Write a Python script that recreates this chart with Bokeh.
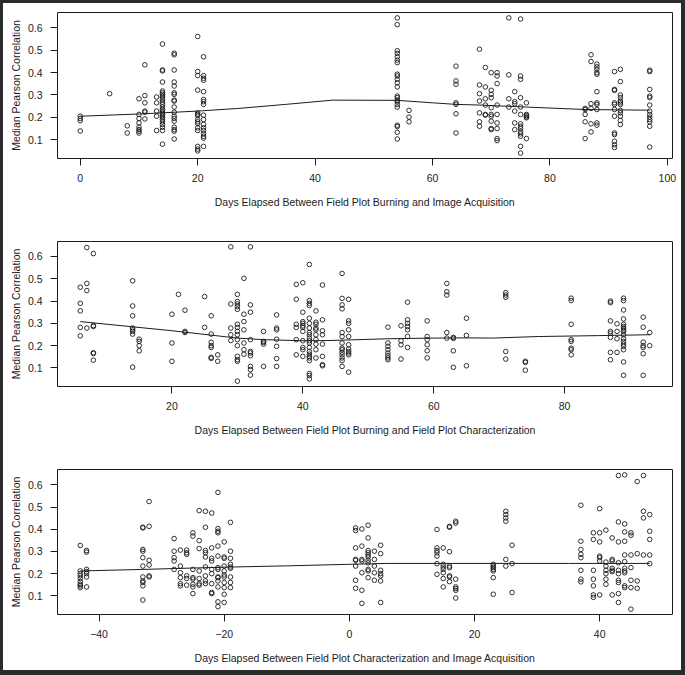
from bokeh.plotting import figure
from bokeh.layouts import column
from bokeh.models import Range1d, FixedTicker
from bokeh.embed import file_html
from bokeh.resources import INLINE

# ---------------- data ----------------
# Panel 1: days between burning and image acquisition
p1_columns = [
    (0, [0.205, 0.195, 0.185, 0.139]),
    (5, [0.306]),
    (8, [0.162, 0.130]),
    (10, [0.283, 0.213, 0.195, 0.175, 0.156, 0.145, 0.138, 0.130]),
    (11, [0.435, 0.297, 0.265, 0.228, 0.223, 0.193]),
    (13, [0.291, 0.265, 0.228, 0.205, 0.141]),
    (14, [0.528, 0.412, 0.408, 0.358, 0.318, 0.310, 0.303, 0.295, 0.288, 0.279, 0.268, 0.258,
          0.246, 0.235, 0.228, 0.220, 0.213, 0.205, 0.198, 0.190, 0.180, 0.168, 0.156, 0.141, 0.080]),
    (16, [0.487, 0.480, 0.412, 0.358, 0.340, 0.310, 0.303, 0.277, 0.273, 0.246, 0.223, 0.205,
          0.195, 0.183, 0.156, 0.145, 0.138, 0.103]),
    (20, [0.562, 0.405, 0.387, 0.322, 0.220, 0.213, 0.208, 0.190, 0.180, 0.172, 0.153, 0.141,
          0.070, 0.058, 0.050]),
    (21, [0.471, 0.387, 0.375, 0.366, 0.315, 0.280, 0.270, 0.258, 0.210, 0.190, 0.168, 0.153,
          0.141, 0.127, 0.115, 0.107, 0.070]),
    (54, [0.645, 0.615, 0.498, 0.486, 0.471, 0.456, 0.445, 0.393, 0.385, 0.370, 0.355, 0.336,
          0.295, 0.288, 0.277, 0.270, 0.258, 0.246, 0.165, 0.159, 0.133, 0.103]),
    (56, [0.231, 0.201, 0.180]),
    (64, [0.429, 0.363, 0.348, 0.265, 0.258, 0.216, 0.130]),
    (68, [0.505, 0.345, 0.306, 0.273, 0.220, 0.180, 0.160]),
    (69, [0.423, 0.336, 0.283, 0.255, 0.213, 0.210]),
    (70, [0.400, 0.321, 0.303, 0.288, 0.243, 0.213, 0.205, 0.183, 0.150, 0.145]),
    (71, [0.400, 0.385, 0.351, 0.255, 0.213, 0.175, 0.150, 0.105, 0.096]),
    (73, [0.645, 0.390, 0.283, 0.246]),
    (74, [0.315, 0.270, 0.261, 0.228, 0.175, 0.145]),
    (75, [0.640, 0.385, 0.370, 0.288, 0.246, 0.213, 0.171, 0.160, 0.150, 0.135, 0.126, 0.115,
          0.070, 0.040]),
    (76, [0.265, 0.213, 0.208, 0.202, 0.198, 0.105]),
    (86, [0.240, 0.235, 0.213, 0.180, 0.105]),
    (87, [0.480, 0.450, 0.261, 0.240, 0.171, 0.135]),
    (88, [0.438, 0.426, 0.415, 0.400, 0.393, 0.315, 0.265, 0.258, 0.235, 0.175, 0.165]),
    (91, [0.405, 0.325, 0.321, 0.265, 0.258, 0.235, 0.205, 0.130, 0.123, 0.093, 0.077, 0.065]),
    (92, [0.415, 0.360, 0.300, 0.288, 0.273, 0.265, 0.258, 0.231, 0.220, 0.205, 0.186, 0.168]),
    (97, [0.411, 0.405, 0.325, 0.295, 0.288, 0.255, 0.228, 0.213, 0.201, 0.190, 0.180, 0.160, 0.067]),
]
p1_smooth_x = [0, 10, 20, 27, 35, 43, 54, 60, 64, 68, 76, 86, 97]
p1_smooth_y = [0.205, 0.215, 0.228, 0.240, 0.258, 0.277, 0.276, 0.265, 0.258, 0.255, 0.246, 0.235, 0.232]

# Panel 2: days between burning and field plot characterization
p2_columns = [
    (6, [0.462, 0.390, 0.356, 0.282, 0.244]),
    (7, [0.640, 0.479, 0.447, 0.279]),
    (8, [0.613, 0.290, 0.286, 0.168, 0.165, 0.135]),
    (14, [0.491, 0.378, 0.334, 0.279, 0.271, 0.264, 0.252, 0.104]),
    (15, [0.229, 0.219, 0.200, 0.177]),
    (20, [0.341, 0.212, 0.130]),
    (21, [0.430]),
    (22, [0.359, 0.264, 0.259]),
    (25, [0.420, 0.282]),
    (26, [0.334, 0.252, 0.215, 0.200, 0.192, 0.148, 0.143]),
    (27, [0.159, 0.130]),
    (29, [0.643, 0.387, 0.279, 0.249, 0.223]),
    (30, [0.430, 0.398, 0.387, 0.375, 0.363, 0.296, 0.282, 0.264, 0.249, 0.227, 0.200, 0.152,
          0.137, 0.130, 0.041]),
    (31, [0.502, 0.341, 0.308, 0.271, 0.212, 0.182, 0.162]),
    (32, [0.643, 0.383, 0.350, 0.227, 0.174, 0.167, 0.155, 0.107, 0.093, 0.068]),
    (34, [0.264, 0.219, 0.215, 0.207, 0.107]),
    (36, [0.338, 0.279, 0.271, 0.229, 0.197, 0.142, 0.107]),
    (39, [0.475, 0.408, 0.296, 0.282, 0.227, 0.159]),
    (40, [0.482, 0.350, 0.308, 0.300, 0.289, 0.282, 0.264, 0.222, 0.192, 0.182, 0.152]),
    (41, [0.564, 0.402, 0.390, 0.380, 0.323, 0.300, 0.279, 0.259, 0.249, 0.234, 0.222, 0.212,
          0.192, 0.174, 0.162, 0.152, 0.145, 0.133, 0.075, 0.066, 0.051]),
    (42, [0.356, 0.305, 0.296, 0.279, 0.271, 0.249, 0.227, 0.207, 0.182, 0.145]),
    (43, [0.472, 0.316, 0.267, 0.249, 0.207, 0.152, 0.115, 0.110]),
    (46, [0.524, 0.412, 0.383, 0.365, 0.259, 0.241, 0.212, 0.189, 0.182, 0.170, 0.159, 0.145,
          0.133, 0.107]),
    (47, [0.408, 0.311, 0.300, 0.271, 0.241, 0.204, 0.185, 0.174, 0.167, 0.159, 0.081]),
    (53, [0.283, 0.212, 0.197, 0.182, 0.167, 0.155, 0.145, 0.137]),
    (55, [0.289, 0.222, 0.204, 0.140]),
    (56, [0.395, 0.316, 0.300, 0.286, 0.271, 0.241, 0.192]),
    (59, [0.311, 0.241, 0.227, 0.204, 0.177, 0.145]),
    (62, [0.479, 0.442, 0.427, 0.259, 0.234]),
    (63, [0.237, 0.233, 0.177, 0.103]),
    (65, [0.323, 0.246, 0.110]),
    (71, [0.438, 0.427, 0.417, 0.174, 0.140]),
    (74, [0.130, 0.125, 0.090]),
    (81, [0.413, 0.402, 0.296, 0.227, 0.219, 0.189, 0.182, 0.159]),
    (87, [0.400, 0.393, 0.311, 0.264, 0.256, 0.237, 0.170, 0.137]),
    (88, [0.298, 0.264, 0.231, 0.170]),
    (89, [0.413, 0.402, 0.360, 0.320, 0.296, 0.286, 0.279, 0.271, 0.264, 0.249, 0.231, 0.219,
          0.207, 0.197, 0.182, 0.127, 0.067]),
    (92, [0.328, 0.283, 0.216, 0.200, 0.192, 0.164, 0.067]),
    (93, [0.259, 0.200]),
]
p2_smooth_x = [6, 20, 30, 34, 40, 44, 53, 60, 65, 69, 76, 85, 93]
p2_smooth_y = [0.308, 0.267, 0.234, 0.227, 0.222, 0.223, 0.231, 0.234, 0.235, 0.234, 0.241, 0.245, 0.249]

# Panel 3: days between field plot characterization and image acquisition
p3_columns = [
    (-43, [0.327, 0.212, 0.200, 0.190, 0.178, 0.164, 0.152, 0.145, 0.137]),
    (-42, [0.304, 0.297, 0.219, 0.209, 0.200, 0.185, 0.140]),
    (-33, [0.409, 0.406, 0.309, 0.301, 0.272, 0.234, 0.185, 0.167, 0.160, 0.145, 0.081]),
    (-32, [0.525, 0.413, 0.260, 0.239, 0.190, 0.185]),
    (-28, [0.358, 0.301, 0.272, 0.257, 0.219]),
    (-27, [0.306, 0.234, 0.204, 0.182, 0.155, 0.145]),
    (-26, [0.306, 0.294, 0.287, 0.190, 0.178, 0.148]),
    (-25, [0.384, 0.369, 0.219, 0.182, 0.175, 0.152, 0.140, 0.110]),
    (-24, [0.484, 0.349, 0.313, 0.212, 0.178, 0.155, 0.148]),
    (-23, [0.481, 0.409, 0.304, 0.294, 0.275, 0.230, 0.190, 0.167, 0.155]),
    (-22, [0.473, 0.316, 0.269, 0.257, 0.219, 0.200, 0.155, 0.115, 0.110]),
    (-21, [0.566, 0.403, 0.391, 0.384, 0.324, 0.279, 0.227, 0.219, 0.185, 0.182, 0.167, 0.140,
           0.073, 0.051]),
    (-20, [0.343, 0.275, 0.269, 0.234, 0.212, 0.194, 0.185, 0.160, 0.137, 0.107, 0.070]),
    (-19, [0.431, 0.301, 0.269, 0.242, 0.230, 0.224, 0.185, 0.160, 0.137]),
    (1, [0.406, 0.394, 0.316, 0.264, 0.260, 0.234, 0.170, 0.134]),
    (2, [0.401, 0.324, 0.264, 0.257, 0.204, 0.125, 0.066]),
    (3, [0.418, 0.361, 0.304, 0.294, 0.284, 0.275, 0.260, 0.249, 0.219, 0.212, 0.182]),
    (4, [0.301, 0.264, 0.234, 0.204, 0.170]),
    (5, [0.328, 0.290, 0.215, 0.200, 0.190, 0.167, 0.070]),
    (14, [0.399, 0.316, 0.304, 0.294, 0.279, 0.245, 0.197]),
    (15, [0.316, 0.242, 0.230, 0.219, 0.204, 0.178, 0.140]),
    (16, [0.413, 0.409, 0.299, 0.234, 0.227, 0.190, 0.185, 0.164]),
    (17, [0.436, 0.428, 0.175, 0.140, 0.133, 0.125, 0.090]),
    (23, [0.242, 0.234, 0.227, 0.219, 0.212, 0.182, 0.107]),
    (25, [0.481, 0.466, 0.451, 0.436, 0.264, 0.234]),
    (26, [0.328, 0.245, 0.115]),
    (37, [0.508, 0.346, 0.309, 0.287, 0.272, 0.215, 0.175, 0.163]),
    (39, [0.384, 0.354, 0.215, 0.175, 0.145, 0.104, 0.093]),
    (40, [0.493, 0.384, 0.343, 0.279, 0.272, 0.257, 0.104]),
    (41, [0.396, 0.252, 0.234, 0.215, 0.200, 0.175, 0.152]),
    (42, [0.361, 0.264, 0.257, 0.224, 0.215, 0.209, 0.104]),
    (43, [0.642, 0.433, 0.343, 0.249, 0.215, 0.200, 0.170, 0.160, 0.110, 0.070]),
    (44, [0.645, 0.424, 0.388, 0.346, 0.284, 0.254, 0.224, 0.212, 0.204, 0.145, 0.137]),
    (45, [0.384, 0.373, 0.284, 0.227, 0.170, 0.137, 0.040]),
    (46, [0.615, 0.290, 0.167, 0.134]),
    (47, [0.642, 0.481, 0.451, 0.284]),
    (48, [0.466, 0.391, 0.354, 0.284, 0.245]),
]
p3_smooth_x = [-43, -33, -20, -10, 0, 6, 15, 25, 35, 48]
p3_smooth_y = [0.212, 0.219, 0.229, 0.235, 0.242, 0.246, 0.246, 0.246, 0.246, 0.246]

y_ticks = [0.1, 0.2, 0.3, 0.4, 0.5, 0.6]
p1_xticks = [0, 20, 40, 60, 80, 100]
p2_xticks = [20, 40, 60, 80]
p3_xticks = [-40, -20, 0, 20, 40]

y_title = "Median Pearson Correlation"
p1_title = "Days Elapsed Between Field Plot Burning and Image Acquisition"
p2_title = "Days Elapsed Between Field Plot Burning and Field Plot Characterization"
p3_title = "Days Elapsed Between Field Plot Characterization and Image Acquisition"

# ---------------- drawing ----------------
INK = "#1c1c1c"
FRAME = "#2b2b2b"
FONT = "Liberation Sans"
FSIZE = "10.5px"
W = 678


def flatten(cols):
    xs, ys = [], []
    for x, vals in cols:
        xs += [x] * len(vals)
        ys += list(vals)
    return xs, ys


def padded(vals, frac=0.04):
    lo, hi = min(vals), max(vals)
    d = (hi - lo) * frac
    return lo - d, hi + d


def panel(cols, sx, sy, xticks, xlabel, height, top, bottom):
    xs, ys = flatten(cols)
    p = figure(width=W, height=height, output_backend="svg", toolbar_location=None,
               x_range=Range1d(*padded(xs)), y_range=Range1d(*padded(ys)),
               min_border_left=54, min_border_right=9,
               min_border_top=top, min_border_bottom=bottom)
    p.grid.visible = False
    p.background_fill_color = "white"
    p.border_fill_color = "white"
    p.outline_line_color = INK
    p.outline_line_width = 1
    p.outline_line_alpha = 1

    p.xaxis.ticker = FixedTicker(ticks=xticks)
    p.yaxis.ticker = FixedTicker(ticks=y_ticks)
    p.xaxis.axis_label = xlabel
    p.yaxis.axis_label = y_title
    for ax in (p.xaxis[0], p.yaxis[0]):
        ax.axis_line_color = None
        ax.major_tick_in = 0
        ax.major_tick_out = 7
        ax.major_tick_line_color = INK
        ax.minor_tick_line_color = None
        ax.major_label_text_font = FONT
        ax.major_label_text_font_size = FSIZE
        ax.major_label_text_color = INK
        ax.axis_label_text_font = FONT
        ax.axis_label_text_font_size = FSIZE
        ax.axis_label_text_font_style = "normal"
        ax.axis_label_text_color = INK
        ax.major_label_standoff = 8
    p.xaxis.axis_label_standoff = 11
    p.yaxis.axis_label_standoff = 3
    p.yaxis.major_label_orientation = "horizontal"

    p.line(sx, sy, line_color=INK, line_width=1)
    p.scatter(xs, ys, marker="circle", size=4.6, fill_color=None,
              line_color=INK, line_width=0.9)
    return p


f1 = panel(p1_columns, p1_smooth_x, p1_smooth_y, p1_xticks, p1_title, 222, 9, 67)
f2 = panel(p2_columns, p2_smooth_x, p2_smooth_y, p2_xticks, p2_title, 230, 16, 69)
f3 = panel(p3_columns, p3_smooth_x, p3_smooth_y, p3_xticks, p3_title, 215, 14, 56)

layout = column(f1, f2, f3, spacing=0,
                styles={"background-color": "white", "border-style": "solid",
                        "border-color": FRAME, "border-width": "3px 4px 5px 3px"})

open("out.html", "w").write(file_html(layout, INLINE))
